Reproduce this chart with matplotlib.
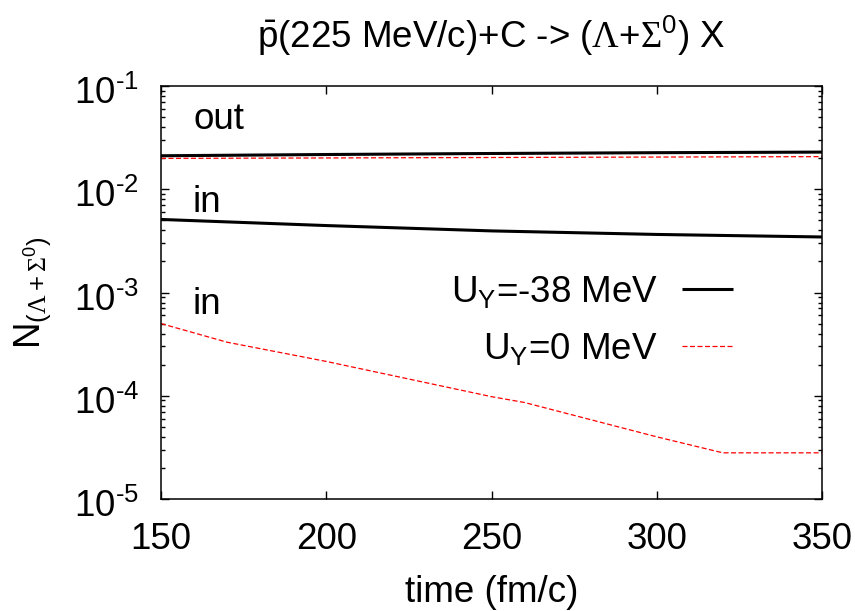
import matplotlib
matplotlib.use("Agg")
import matplotlib.pyplot as plt
from matplotlib.font_manager import FontProperties
from matplotlib.ticker import FixedLocator, LogLocator, NullFormatter
from matplotlib.transforms import ScaledTranslation
import numpy as np

FONT = 'Liberation Sans'
plt.rcParams['font.family'] = [FONT, 'DejaVu Sans']
plt.rcParams['mathtext.fontset'] = 'custom'
plt.rcParams['mathtext.rm'] = FONT
plt.rcParams['mathtext.it'] = FONT
plt.rcParams['mathtext.bf'] = FONT
plt.rcParams['mathtext.sf'] = 'Liberation Serif'

# data
t_out = [150, 200, 250, 300, 350]
out_m38 = [0.0211, 0.0217, 0.0222, 0.0226, 0.0229]
out_0 = [0.0199, 0.0201, 0.0203, 0.0205, 0.0207]
t_in_m38 = [150, 200, 250, 300, 350]
in_m38 = [5.1e-3, 4.45e-3, 3.95e-3, 3.65e-3, 3.45e-3]
t_in_0 = [150, 170, 200, 250, 260, 300, 320, 350]
in_0 = [5.0e-4, 3.3e-4, 2.15e-4, 9.8e-5, 8.6e-5, 4.0e-5, 2.8e-5, 2.8e-5]

x_ticks = [150, 200, 250, 300, 350]
y_ticks = [1e-5, 1e-4, 1e-3, 1e-2, 1e-1]
y_ticklabels = [r'$10^{\text{-5}}$', r'$10^{\text{-4}}$', r'$10^{\text{-3}}$',
                r'$10^{\text{-2}}$', r'$10^{\text{-1}}$']
series_labels = [r'U$_\mathrm{Y}$=-38 MeV', r'U$_\mathrm{Y}$=0 MeV']
title = r'$\bar{\mathrm{p}}$(225 MeV/c)+C -> ($\mathsf{\Lambda}$+$\mathsf{\Sigma}^0$) X'
ylabel = r'N$_{(\mathsf{\Lambda}+\mathsf{\Sigma}^0)}$'
xlabel = 'time (fm/c)'

W, H, DPI = 855, 611, 100
FS = 26.5
fs_px = FS * DPI / 72.0
PT = 72.0 / DPI  # points per pixel

def fx(px):
    return px / W

def fy(py):
    return 1 - py / H

fig = plt.figure(figsize=(W / DPI, H / DPI), dpi=DPI)
AX_L, AX_R, AX_T, AX_B = 161, 822, 86, 499
ax = fig.add_axes([fx(AX_L), fy(AX_B), (AX_R - AX_L) / W, (AX_B - AX_T) / H])

black_kw = dict(color='black', lw=2.2, solid_capstyle='butt')
red_kw = dict(color='#ff0000', lw=0.9, ls=(0, (4, 2)))

l1, = ax.plot(t_out, out_m38, label=series_labels[0], **black_kw)
l2, = ax.plot(t_out, out_0, label=series_labels[1], **red_kw)
ax.plot(t_in_m38, in_m38, **black_kw)
ax.plot(t_in_0, in_0, **red_kw)

ax.set_yscale('log')
ax.set_xlim(150, 350)
ax.set_ylim(1e-5, 1e-1)
ax.set_xticks(x_ticks)
ax.set_xticklabels([str(v) for v in x_ticks])
ax.yaxis.set_major_locator(FixedLocator(y_ticks))
ax.set_yticklabels(y_ticklabels)
ax.yaxis.set_minor_locator(LogLocator(base=10, subs=np.arange(2, 10)))
ax.yaxis.set_minor_formatter(NullFormatter())

fig.canvas.draw()
r = fig.canvas.get_renderer()
_, lp_h, lp_d = r.get_text_width_height_descent('lp', FontProperties(family=FONT, size=FS), ismath=False)
asc_px = lp_h - lp_d
x_pad_px = (549 - AX_B) - asc_px

ax.tick_params(axis='both', which='both', direction='in', top=True, right=True,
               labelsize=FS, width=1.0)
ax.tick_params(axis='both', which='major', length=5.8)
ax.tick_params(axis='y', which='minor', length=3.1)
ax.tick_params(axis='x', which='major', pad=x_pad_px * PT)
ax.tick_params(axis='y', which='major', pad=22 * PT)
for s in ax.spines.values():
    s.set_linewidth(1.1)

# nudge y tick labels slightly downwards, as in the reference
shift = ScaledTranslation(0, -4 / DPI, fig.dpi_scale_trans)
for lab in ax.get_yticklabels():
    lab.set_transform(lab.get_transform() + shift)

# axis labels
ax.set_xlabel(xlabel, fontsize=FS)
ax.xaxis.label.set_va('baseline')
ax.xaxis.set_label_coords(0.5, (AX_B - 601.5) / (AX_B - AX_T))
ax.set_ylabel(ylabel, fontsize=FS)
ax.yaxis.label.set_rotation_mode('anchor')
ax.yaxis.label.set_va('baseline')
ax.yaxis.label.set_ha('center')
ax.yaxis.set_label_coords((40 - AX_L) / (AX_R - AX_L), (AX_B - 293) / (AX_B - AX_T))

ax.set_title(title, fontsize=FS, pad=(AX_T - 48.3) * PT)

# annotations
fig.text(fx(193.5), fy(128.8), 'out', fontsize=FS, va='baseline', ha='left')
fig.text(fx(192.5), fy(211.5), 'in', fontsize=FS, va='baseline', ha='left')
fig.text(fx(192.5), fy(314.0), 'in', fontsize=FS, va='baseline', ha='left')

# legend, positioned so that sample lines land at the reference places
tgt_right = 733.3
tgt_y1 = H - 289.3
tgt_y2 = H - 346.0
ls = 0.5
anchor = [fx(733.3), fy(270)]
leg = None
for it in range(3):
    if leg is not None:
        leg.remove()
    leg = ax.legend(handles=[l1, l2], loc='upper right', bbox_to_anchor=anchor,
                    bbox_transform=fig.transFigure, frameon=False, markerfirst=False,
                    fontsize=FS, handlelength=51.6 / fs_px, handletextpad=23.7 / fs_px,
                    labelspacing=ls, borderpad=0, borderaxespad=0)
    fig.canvas.draw()
    hl = leg.get_lines()
    p1 = hl[0].get_transform().transform(hl[0].get_xydata())
    p2 = hl[1].get_transform().transform(hl[1].get_xydata())
    y1 = p1[:, 1].mean()
    y2 = p2[:, 1].mean()
    xr = p1[:, 0].max()
    pitch = y1 - y2
    ls = ls + ((tgt_y1 - tgt_y2) - pitch) / fs_px
    anchor = [anchor[0] + (tgt_right - xr) / W, anchor[1] + (tgt_y1 - y1) / H]

fig.savefig('out.png', dpi=DPI)
